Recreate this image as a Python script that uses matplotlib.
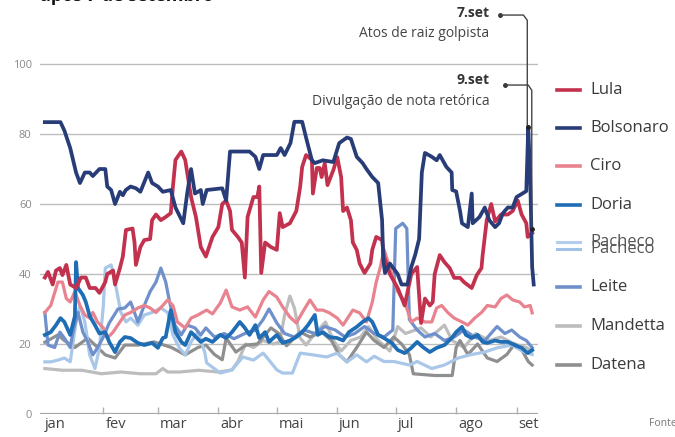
import matplotlib
matplotlib.use("Agg")
import matplotlib.pyplot as plt
from matplotlib.lines import Line2D

plt.rcParams['font.family'] = ['Open Sans', 'DejaVu Sans']

# dias contados a partir de 1 de janeiro (0 = 1.jan)
month_days = [0, 31, 59, 90, 120, 151, 181, 212, 243]
month_labels = ["jan", "fev", "mar", "abr", "mai", "jun", "jul", "ago", "set"]
y_ticks = [0, 20, 40, 60, 80, 100]

lula_days = [1, 2.6, 5, 6.7, 8.7, 10, 12, 14, 17, 19.5, 22, 24, 27, 29, 32, 33, 36, 37, 39.5, 41,
             42.6, 46, 47, 47.7, 50, 52, 55, 56, 58, 60.5, 63, 65.6, 66.7, 68, 71, 73, 76, 78.5, 81, 83.6,
             87, 90, 92, 94, 96, 97, 100, 102, 103.6, 105, 108, 110, 111, 112, 114, 117, 120, 121.5, 123,
             126.7, 130, 132, 133, 135, 138, 138.5, 140.5, 142, 143, 144.6, 146, 149, 151, 153, 154, 156,
             158, 159, 161, 162.5, 165, 168, 169, 171, 174, 175, 178, 182, 185.6, 189, 192, 194, 196,
             198.5, 200, 201, 203.6, 206, 208.7, 211, 214, 216, 220, 222.6, 225, 225.6, 227.7, 230, 232,
             235, 238.5, 241, 243.6, 245.6, 248, 248.7, 251]
lula_vals = [39, 40.6, 37, 41, 41.7, 39.7, 42.6, 37, 36, 39, 39, 36, 36, 34.6, 37.7, 40, 41, 37, 41.7, 45,
             52.6, 53, 49, 42.6, 47.7, 49.7, 50, 55.4, 57, 55.4, 56.3, 57.4, 65, 72.6, 75, 72.6, 62, 56.3, 47.7, 45,
             50.6, 53.4, 60, 61, 58, 52.6, 50.6, 49, 39, 56.3, 62, 62, 65, 40.3, 49, 47.7, 46.9, 57.4, 53.4,
             54.5, 58, 65, 70.6, 74, 72.6, 63, 70.3, 70.3, 67.7, 71.7, 65.4, 69.7, 73.4, 67.7, 58, 59,
             55.4, 49, 46.9, 43, 40.3, 43, 47, 50.6, 49.7, 45, 40, 36, 31, 40, 42, 26, 33,
             31, 32, 40, 45.4, 43.4, 41.7, 38.9, 38.9, 37.7, 36, 39.7, 41.7, 45.4, 55.4, 60, 55,
             57, 57, 58, 61, 57, 54.5, 50.6, 51.7]

bolso_days = [1, 9, 11, 14, 17, 19, 21.5, 24, 25.6, 29, 32, 33, 35, 37, 39.5, 41, 42.5, 45, 47.7, 50,
              54, 56, 59, 61.5, 65.6, 68, 72, 74, 76, 78, 81, 82, 84, 92, 94, 96, 106, 109, 111, 113,
              120, 122, 124, 127, 129, 133, 135, 138, 139.5, 143.6, 149, 152, 156, 158, 161, 164, 166,
              169, 172, 174, 174.6, 175.5, 178, 182, 184, 187, 189, 191, 193, 194.4, 196, 199.5, 202,
              203.6, 207, 209.7, 210, 212, 214, 215, 218, 220, 220.5, 224, 226.7, 229, 232, 234, 236,
              238.5, 241, 243, 246, 248, 249, 250, 251, 251.8]
bolso_vals = [83.4, 83.4, 81, 76, 69, 66, 69, 69, 68, 70, 70, 65, 64, 60, 63.5, 62.5, 64, 65, 64.5, 63.5,
              69, 66, 65, 63.5, 64, 59, 54.5, 63, 70, 63, 64, 60, 64, 64.5, 61, 75, 75, 73.5, 70, 74,
              74, 76, 74, 77.4, 83.5, 83.5, 79, 72.5, 71.7, 72.5, 72, 77.4, 79, 78.6, 73.5, 71.7, 70,
              67.7, 66, 55.4, 44, 40.3, 43, 40, 37, 37, 42, 45.5, 50, 69, 74.6, 73.5, 72.5,
              74, 70.6, 69, 64, 63.6, 58, 54.5, 53.4, 63, 54.5, 56.3, 59, 55.4, 53.4, 54.5, 57.4,
              59, 59, 62, 63, 63.7, 82, 67.7, 42, 37]

ciro_days = [1, 4, 7.7, 10, 12, 14, 16.4, 19, 21.5, 24, 25.6, 28, 31, 33, 36, 39.5, 42, 45, 48.7, 52,
             55, 58, 61.5, 64, 66.7, 69, 73, 76, 79.5, 84, 87, 91, 94, 97, 101, 105, 109, 113, 116, 120,
             123, 126.7, 130, 133, 137, 140.5, 143.6, 147, 151, 154, 159, 162.5, 166, 169, 171, 173, 175,
             179, 182, 185.6, 189, 192, 196, 199.5, 202, 204.6, 207.7, 211, 215, 218, 221.5, 225, 228,
             232, 235, 238, 241, 244.6, 247, 250, 251]
ciro_vals = [29, 31, 37.7, 37.7, 33, 32, 35, 31, 28.3, 27.4, 29, 26.3, 24.6, 21.7, 23.4, 26.3, 28.3, 29, 30.3, 31,
             30.3, 29, 31, 32.6, 31, 26.3, 24.6, 27.4, 28.3, 29.7, 28.6, 31.7, 35.4, 30.6, 29.7, 30.6, 27.7, 32.6, 35, 33.4,
             30.6, 27.7, 26, 28.9, 32.6, 29.7, 29.7, 28.9, 27.4, 25.4, 29.7, 28.9, 26.3, 32, 37.7, 41.7, 47,
             40, 35, 32, 26.3, 27.4, 26.3, 26.3, 30.3, 31, 29, 27.4, 26.3, 25.4, 27.4, 29, 31,
             30.6, 33, 34, 32.6, 32, 30.6, 31, 28.9]

doria_days = [1, 4, 6.7, 9, 11, 14, 16.4, 17, 18, 20.5, 22, 24, 26.7, 29, 32, 34, 37, 39.5, 42, 45,
              48.7, 52, 56, 59, 61.5, 63, 65.6, 68, 71, 73, 76, 78.5, 81, 83.6, 87, 91, 94, 97, 101,
              103.6, 106, 109, 111, 114, 116, 120, 123, 126.7, 130, 133, 136, 139.5, 141, 143.6, 147,
              151, 154, 157, 161, 164, 167, 169, 172, 175, 179, 182, 185.6, 189, 192, 195, 198.5, 202,
              206, 209.7, 212, 215, 217, 220, 223, 225.6, 228, 232, 235, 238.5, 242, 245.6, 248.7, 251]
doria_vals = [22.6, 23.4, 25.4, 27.4, 26.3, 22.6, 28, 43.4, 36, 34, 32, 28, 25.4, 23, 23.4, 20.6, 17.7, 20.6, 22, 21.7,
              20.3, 19.7, 20.3, 18.9, 21.7, 22, 29.7, 23.4, 20.6, 19.7, 23.4, 22, 20.6, 21.5, 20.6, 22.6, 21.7, 23.4, 26.3,
              24.6, 22.6, 25.4, 21.7, 23.4, 20.6, 22.6, 20.3, 21, 22, 23.4, 25.4, 28.3, 22.6, 23.4, 22,
              21.7, 21, 23.4, 24.9, 26.3, 27.4, 26.3, 22.6, 21.7, 20.3, 18.3, 17.4, 18.9, 20.6, 19.1, 17.7, 18.9,
              19.7, 21.7, 23.4, 24.9, 22.6, 21.7, 22.6, 20.6, 20.3, 21, 20.6, 20.6, 19.7, 18.9, 17.4, 18.3]

pacheco_days = [1, 4, 7.7, 11, 14, 17, 19, 21.5, 24, 26.7, 29, 31, 32, 35, 37, 40, 42.6, 45, 48.7, 52,
                56, 60.5, 64, 66.7, 70, 73, 76, 79.5, 83, 84, 91, 97, 102.6, 108, 113, 116, 120, 123,
                128, 132, 138.5, 145.6, 151, 156, 161, 166, 170, 175, 180, 188, 192, 199.5, 206, 213,
                220, 226.7, 233, 240.5, 247, 251]
pacheco_vals = [14.9, 14.9, 15.4, 16, 14.9, 26.3, 31, 26.3, 16.9, 13, 19, 31, 41.7, 42.6, 37.7, 29, 26.3, 27.4, 25.4, 28.3,
                29, 30.3, 29, 22.6, 18.9, 16.9, 20.6, 23.4, 17.7, 14.6, 11.7, 12.6, 16.3, 15.4, 17.4, 15.4, 12.6, 11.7,
                11.7, 17.4, 16.9, 16.3, 17.4, 14.9, 16.9, 14.9, 16.5, 15, 15, 14, 15, 13, 14, 16,
                17, 17.7, 18.9, 19.7, 17.7, 17]

leite_days = [1, 2.6, 6, 8.7, 11, 14, 15.4, 18, 20.5, 23, 25.6, 28, 31, 34, 38.5, 42, 45, 48.7, 52, 55,
              58, 60.5, 63, 65, 67.7, 71, 74, 78, 81, 83.6, 88, 93, 98, 103.6, 109, 113, 116, 120, 124,
              129, 134, 139.5, 144.6, 150, 155, 160, 165, 170, 175, 179.5, 181, 184.6, 186.7, 188, 192,
              196, 201, 206, 211, 216, 221.5, 226.7, 233, 237, 240.5, 244.6, 248, 251]
leite_vals = [29, 19.7, 19, 23.4, 21.7, 19, 23.4, 29, 23.4, 20.6, 16.9, 18.9, 22, 26, 30, 30.3, 32, 26.3, 31, 35,
              37.7, 41.7, 37.7, 32, 25.4, 22.6, 25.4, 24.6, 22.6, 24.6, 22, 23, 21.5, 23, 24, 27, 30, 26, 23,
              22, 24, 23, 25, 24, 22, 23, 25, 23, 22, 24, 53, 54.5, 53, 27, 24,
              22, 23, 21, 22, 24, 22, 21, 25, 23, 24, 22, 21, 19]

mandetta_days = [1, 10, 20, 30, 40, 50, 58, 61.5, 64, 70, 80, 90, 97, 100, 104, 108, 113, 118, 121.5, 124,
                 126.7, 129, 132, 135, 139, 145, 149, 153, 158, 163, 167, 172, 178, 182, 186, 194, 199, 206,
                 210, 216, 222, 229, 235, 242, 248, 251]
mandetta_vals = [13, 12.5, 12.5, 11.5, 12, 11.5, 11.5, 13, 12, 12, 12.5, 12, 12.6, 15, 20, 19, 21, 20, 20.6, 28.3,
                 33.7, 30.3, 21.7, 19.7, 22.6, 26.3, 21, 18, 21, 22, 25, 21, 18, 25, 23, 24.6, 22, 25.4,
                 21, 19, 23, 21, 22, 20, 19, 18]

datena_days = [1, 7.7, 11, 16.4, 23, 32, 37, 42, 49, 57, 66, 73, 79.5, 83.6, 88, 92, 94, 99, 104, 110,
               117, 121, 125, 132, 137, 143, 148, 152, 156, 161, 166, 170, 175, 180, 184, 188, 190, 201,
               210, 212, 214, 218, 223, 228, 233, 238, 242, 246, 249, 251]
datena_vals = [20.5, 22.6, 21, 19, 21.7, 16.9, 16, 19.7, 19.7, 20.6, 19, 16.9, 19, 19.7, 17, 15.5, 21.7, 17.7, 19.7, 20,
               24.6, 23, 19.5, 23.4, 22, 23.4, 21, 16.9, 14.9, 19, 23.4, 21, 19, 22, 20, 17, 11.5, 11,
               11, 19, 21, 17, 20, 16, 15, 17, 20, 18, 15, 14]

series = [
    ("Mandetta", mandetta_days, mandetta_vals, "#bdbdbd", 2.3),
    ("Datena", datena_days, datena_vals, "#8f8f8f", 2.3),
    ("Pacheco", pacheco_days, pacheco_vals, "#a9c7e8", 2.3),
    ("Leite", leite_days, leite_vals, "#6f90cb", 2.3),
    ("Ciro", ciro_days, ciro_vals, "#e8838f", 2.3),
    ("Doria", doria_days, doria_vals, "#1f6db5", 2.7),
    ("Lula", lula_days, lula_vals, "#c2314d", 2.7),
    ("Bolsonaro", bolso_days, bolso_vals, "#283c78", 2.7),
]

W, H = 675, 437
fig = plt.figure(figsize=(W / 100, H / 100), dpi=100)

def px(x, y):
    return x / W, 1 - y / H

ax = fig.add_axes([40 / W, 23 / H, 498 / W, 414 / H])
ax.set_xlim(-1.5, 254)
ax.set_ylim(0, 118.3)
for s in ax.spines.values():
    s.set_visible(False)

for v in y_ticks[1:]:
    ax.axhline(v, color="#bdbdbd", lw=1.0, zorder=0)
ax.axhline(0, color="#a8a8a8", lw=1.6, zorder=0)

for name, d, v, c, lw in series:
    ax.plot(d, v, color=c, lw=lw, solid_joinstyle="round")

ax.set_yticks(y_ticks)
ax.set_yticklabels([str(t) for t in y_ticks])
ax.tick_params(axis="y", length=0, pad=6, labelsize=8, labelcolor="#8a8a8a")
ax.set_xticks(month_days[1:])
ax.set_xticklabels([])
ax.tick_params(axis="x", direction="in", length=5, color="#b0b0b0", width=1)
for d, lab in zip(month_days, month_labels):
    ax.text(d + 1, -1.0, lab, ha="left", va="top", fontsize=10.5, color="#444444")

# anotações 7.set / 9.set
ax.plot([234.4], [114], "o", color="#333333", ms=2.5, clip_on=False)
ax.plot([234.4, 246.5, 248.5, 248.5], [114, 114, 112.5, 82], color="#444444", lw=1.0, clip_on=False)
ax.plot([248.7], [82], "o", color="#222222", ms=2.5)
ax.plot([237], [94], "o", color="#333333", ms=2.5)
ax.plot([237, 249, 250.8, 250.8], [94, 94, 92.5, 53], color="#444444", lw=1.0)
ax.plot([250.8], [53], "o", color="#222222", ms=2.5)
ax.text(229, 114.6, "7.set", ha="right", va="center", fontsize=10, fontweight="bold", color="#333333")
ax.text(229, 108.6, "Atos de raiz golpista", ha="right", va="center", fontsize=10, color="#444444")
ax.text(229, 95.4, "9.set", ha="right", va="center", fontsize=10, fontweight="bold", color="#333333")
ax.text(229, 89.4, "Divulgação de nota retórica", ha="right", va="center", fontsize=10, color="#444444")

# legenda
legend_rows = [("Lula", 90), ("Bolsonaro", 128), ("Ciro", 166), ("Doria", 205),
               ("Leite", 287), ("Mandetta", 326), ("Datena", 365)]
colors = {n: c for n, d, v, c, lw in series}
for name, y in legend_rows:
    x0, y0 = px(557, y)
    x1, _ = px(580, y)
    fig.add_artist(Line2D([x0, x1], [y0, y0], color=colors[name], lw=2.6))
    fig.text(*px(590, y), name, ha="left", va="center", fontsize=12, color="#3a3a3a")
for y, c in [(242, "#b3cdea"), (249, "#a2c1e6")]:
    x0, y0 = px(557, y)
    x1, _ = px(580, y)
    fig.add_artist(Line2D([x0, x1], [y0, y0], color=c, lw=2.2))
fig.text(*px(590, 242), "Pacheco", ha="left", va="center", fontsize=12, color="#555555")
fig.text(*px(590, 249), "Pacheco", ha="left", va="center", fontsize=12, color="#555555")

fig.text(*px(40, 1), "após 7 de setembro", ha="left", va="baseline", fontsize=13,
         fontweight="bold", color="#111111")
fig.text(*px(649, 424), "Fonte: Quaest", ha="left", va="center", fontsize=7.5, color="#777777")

fig.savefig("out.png", dpi=100)
